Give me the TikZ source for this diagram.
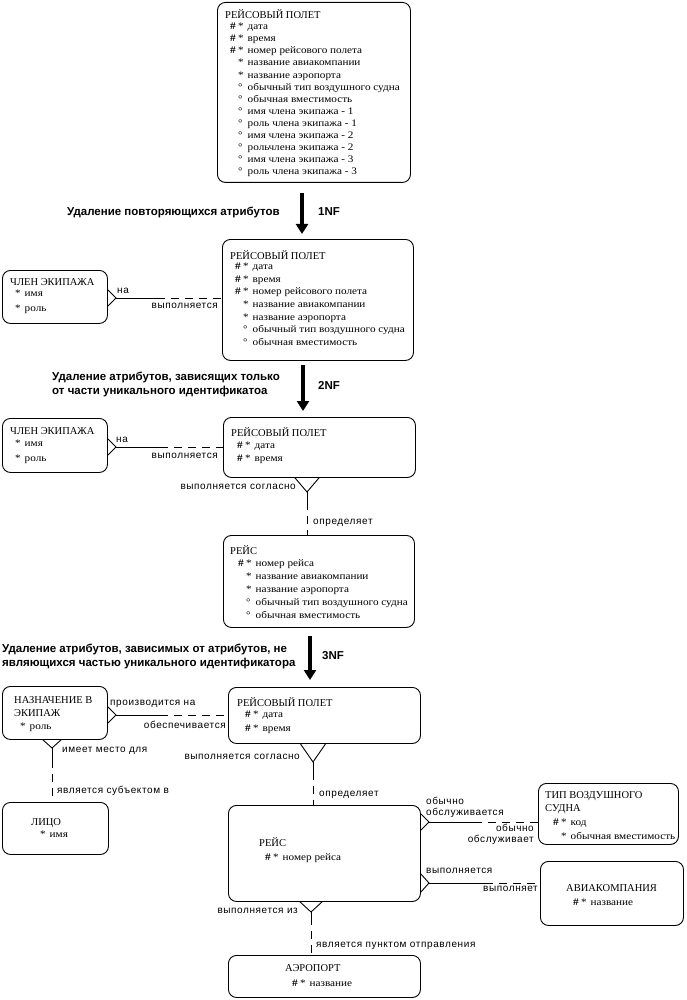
\documentclass[tikz,border=0pt]{standalone}
\usepackage{fontspec}
\setmainfont{Liberation Serif}
\newfontfamily\attrf[FakeStretch=1.12]{Liberation Serif}
\newfontfamily\lblf[LetterSpace=6]{Liberation Sans}
\newfontfamily\hdf{Liberation Sans}
\usetikzlibrary{arrows.meta,calc}
\newcommand\pk{\makebox[8pt][l]{\textbf{\#}}\makebox[9.5pt][l]{*}}
\newcommand\ps{\hspace*{8pt}\makebox[9.5pt][l]{*}}
\newcommand\po{\hspace*{8pt}\makebox[9.5pt][l]{°}}
\tikzset{
 ebox/.style={draw, line width=0.9pt, rounded corners=8pt, anchor=north west, inner sep=0pt},
 ttl/.style={anchor=west, inner sep=0pt, font=\fontsize{10.5}{12}\selectfont, text height=7pt, text depth=0pt},
 atr/.style={anchor=west, inner sep=0pt, font=\attrf\fontsize{10}{12}\selectfont, text height=6.5pt, text depth=2pt},
 lbl/.style={anchor=west, inner sep=0pt, font=\lblf\fontsize{10}{12}\selectfont, text height=6pt, text depth=1pt},
 lble/.style={lbl, anchor=east},
 hd/.style={anchor=west, inner sep=0pt, font=\hdf\bfseries\fontsize{11.5}{14}\selectfont, text height=6pt, text depth=1pt},
 nfarrow/.style={line width=4.5pt, -{Triangle[width=12pt,length=10pt]}},
 rel/.style={line width=0.9pt},
 reld/.style={line width=0.9pt, dash pattern=on 8pt off 6pt, dash phase=8pt},
}
\begin{document}
\begin{tikzpicture}[x=1pt,y=-1pt]
\fill[white] (0,0) rectangle (686,1000);
\useasboundingbox (0,0) rectangle (686,1000);

% ---------- Box 1 ----------
\node[ebox, minimum width=193pt, minimum height=180pt] (rp1) at (217,2) {};
\node[ttl] (rp1t) at (225,15) {РЕЙСОВЫЙ ПОЛЕТ};
\foreach \t [count=\i from 0] in {{\pk дата},{\pk время},{\pk номер рейсового полета},{\ps название авиакомпании},{\ps название аэропорта},{\po обычный тип воздушного судна},{\po обычная вместимость},{\po имя члена экипажа - 1},{\po роль члена экипажа - 1},{\po имя члена экипажа - 2},{\po рольчлена экипажа - 2},{\po имя члена экипажа - 3},{\po роль члена экипажа - 3}}
  \node[atr] (rp1a\i) at (230,{27.5+12.08*\i}) {\t};

% arrow 1NF
\coordinate (a1s) at (302,193);
\coordinate (a1e) at (302,234);
\draw[nfarrow] (a1s) -- (a1e);
\node[hd] (h1) at (67,213) {Удаление повторяющихся атрибутов};
\node[hd] (n1) at (318,213) {1NF};

% ---------- Box 2 ----------
\node[ebox, minimum width=191pt, minimum height=121pt] (rp2) at (222,239) {};
\node[ttl] (rp2t) at (230,256) {РЕЙСОВЫЙ ПОЛЕТ};
\foreach \t [count=\i from 0] in {{\pk дата},{\pk время},{\pk номер рейсового полета},{\ps название авиакомпании},{\ps название аэропорта},{\po обычный тип воздушного судна},{\po обычная вместимость}}
  \node[atr] (rp2a\i) at (235,{267.5+12.6*\i}) {\t};

\node[ebox, minimum width=105pt, minimum height=53pt] (cr1) at (2,270) {};
\node[ttl] (cr1t) at (10,282) {ЧЛЕН ЭКИПАЖА};
\node[atr] (cr1a) at (15,294.5) {\makebox[9.5pt][l]{*}имя};
\node[atr] (cr1b) at (15,309) {\makebox[9.5pt][l]{*}роль};

\coordinate (r1t) at (116,298);
\coordinate (r1m) at (165,298);
\draw[rel] ($(cr1.east|-r1t)+(0,-8)$) -- (r1t) -- ($(cr1.east|-r1t)+(0,8)$);
\draw[rel] (r1t) -- (r1m);
\draw[reld] (r1m) -- (rp2.west|-r1t);
\node[lbl] (l1a) at (117,291) {на};
\node[lble] (l1b) at (218,306) {выполняется};

% arrow 2NF
\coordinate (a2s) at (303,365);
\coordinate (a2e) at (303,411);
\draw[nfarrow] (a2s) -- (a2e);
\node[hd] (h2a) at (52,378) {Удаление атрибутов, зависящих только};
\node[hd] (h2b) at (52,392) {от части уникального идентификатоа};
\node[hd] (n2) at (318,387) {2NF};

% ---------- Box 3 ----------
\node[ebox, minimum width=192pt, minimum height=60pt] (rp3) at (223,417) {};
\node[ttl] (rp3t) at (231,433) {РЕЙСОВЫЙ ПОЛЕТ};
\node[atr] (rp3a) at (237,446) {\pk дата};
\node[atr] (rp3b) at (237,459) {\pk время};

\node[ebox, minimum width=105pt, minimum height=54pt] (cr2) at (2,418) {};
\node[ttl] (cr2t) at (10,431) {ЧЛЕН ЭКИПАЖА};
\node[atr] (cr2a) at (15,444.5) {\makebox[9.5pt][l]{*}имя};
\node[atr] (cr2b) at (15,459) {\makebox[9.5pt][l]{*}роль};

\coordinate (r2t) at (116,447);
\coordinate (r2m) at (168,447);
\draw[rel] ($(cr2.east|-r2t)+(0,-8)$) -- (r2t) -- ($(cr2.east|-r2t)+(0,8)$);
\draw[rel] (r2t) -- (r2m);
\draw[reld] (r2m) -- (rp3.west|-r2t);
\node[lbl] (l2a) at (116,440) {на};
\node[lble] (l2b) at (218,456) {выполняется};

% Box3 -> РЕЙС
\coordinate (r3t) at (307,492);
\coordinate (r3m) at (307,510);
\draw[rel] ($(rp3.south-|r3t)+(-12,0)$) -- (r3t) -- ($(rp3.south-|r3t)+(12,0)$);
\draw[rel] (r3t) -- (r3m);

% ---------- РЕЙС (2NF) ----------
\node[ebox, minimum width=191pt, minimum height=92pt] (rs1) at (223,535) {};
\draw[reld] (r3m) -- (rs1.north-|r3t);
\node[lble] (l3a) at (296,487) {выполняется согласно};
\node[lbl] (l3b) at (313,522) {определяет};
\node[ttl] (rs1t) at (230,551) {РЕЙС};
\foreach \t [count=\i from 0] in {{\pk номер рейса},{\ps название авиакомпании},{\ps название аэропорта},{\po обычный тип воздушного судна},{\po обычная вместимость}}
  \node[atr] (rs1a\i) at (238,{564.5+13*\i}) {\t};

% arrow 3NF
\coordinate (a3s) at (310,636);
\coordinate (a3e) at (310,680);
\draw[nfarrow] (a3s) -- (a3e);
\node[hd] (h3a) at (2,650) {Удаление атрибутов, зависимых от атрибутов, не};
\node[hd] (h3b) at (2,664) {являющихся частью уникального идентификатора};
\node[hd] (n3) at (322,657) {3NF};

% ---------- 3NF ----------
\node[ebox, minimum width=192pt, minimum height=56pt] (rp4) at (228,687) {};
\node[ttl] (rp4t) at (237,703) {РЕЙСОВЫЙ ПОЛЕТ};
\node[atr] (rp4a) at (245,715.5) {\pk дата};
\node[atr] (rp4b) at (245,729) {\pk время};

\node[ebox, minimum width=105pt, minimum height=53pt] (nz) at (2,686) {};
\node[ttl] (nzt1) at (14,700) {НАЗНАЧЕНИЕ В};
\node[ttl] (nzt2) at (14,713) {ЭКИПАЖ};
\node[atr] (nza) at (20,727) {\makebox[9.5pt][l]{*}роль};

\coordinate (r4t) at (116,715);
\coordinate (r4m) at (168,715);
\draw[rel] ($(nz.east|-r4t)+(0,-8)$) -- (r4t) -- ($(nz.east|-r4t)+(0,8)$);
\draw[rel] (r4t) -- (r4m);
\draw[reld] (r4m) -- (rp4.west|-r4t);
\node[lbl] (l4a) at (110,703) {производится на};
\node[lble] (l4b) at (226,726) {обеспечивается};

\node[ebox, minimum width=106pt, minimum height=52pt] (lc) at (2,802) {};
\node[ttl] (lct) at (31,822) {ЛИЦО};
\node[atr] (lca) at (40,835) {\makebox[9.5pt][l]{*}имя};

\coordinate (r5t) at (52,748);
\coordinate (r5m) at (52,768);
\draw[rel] ($(nz.south-|r5t)+(-9,0)$) -- (r5t) -- ($(nz.south-|r5t)+(9,0)$);
\draw[rel] (r5t) -- (r5m);
\draw[reld] (r5m) -- (lc.north-|r5t);
\node[lbl] (l5a) at (62,750) {имеет место для};
\node[lbl] (l5b) at (57,791) {является субъектом в};

\node[ebox, minimum width=192pt, minimum height=96pt] (rs2) at (228,805) {};
\node[ttl] (rs2t) at (259,843) {РЕЙС};
\node[atr] (rs2a) at (265,858) {\pk номер рейса};

\coordinate (r6t) at (313,762);
\coordinate (r6m) at (313,780);
\draw[rel] ($(rp4.south-|r6t)+(-12.5,0)$) -- (r6t) -- ($(rp4.south-|r6t)+(12.5,0)$);
\draw[rel] (r6t) -- (r6m);
\draw[reld] (r6m) -- (rs2.north-|r6t);
\node[lble] (l6a) at (300,757) {выполняется согласно};
\node[lbl] (l6b) at (319,794) {определяет};

\node[ebox, minimum width=140pt, minimum height=61pt] (tp) at (538,783) {};
\node[ttl] (tpt1) at (545,795) {ТИП ВОЗДУШНОГО};
\node[ttl] (tpt2) at (545,808) {СУДНА};
\node[atr] (tpa) at (553,823) {\pk код};
\node[atr] (tpb) at (553,837) {\ps обычная вместимость};

\coordinate (r7t) at (429,822);
\coordinate (r7m) at (482,822);
\draw[rel] ($(rs2.east|-r7t)+(0,-8)$) -- (r7t) -- ($(rs2.east|-r7t)+(0,8)$);
\draw[rel] (r7t) -- (r7m);
\draw[reld] (r7m) -- (tp.west|-r7t);
\node[lbl] (l7a) at (426,802) {обычно};
\node[lbl] (l7b) at (426,813) {обслуживается};
\node[lble] (l7c) at (534,829) {обычно};
\node[lble] (l7d) at (534,840) {обслуживает};

\node[ebox, minimum width=143pt, minimum height=64pt] (av) at (540,861) {};
\node[ttl] (avt) at (566,888) {АВИАКОМПАНИЯ};
\node[atr] (ava) at (573,903) {\pk название};

\coordinate (r8t) at (429,883);
\coordinate (r8m) at (493,883);
\draw[rel] ($(rs2.east|-r8t)+(0,-9)$) -- (r8t) -- ($(rs2.east|-r8t)+(0,9)$);
\draw[rel] (r8t) -- (r8m);
\draw[reld] (r8m) -- (av.west|-r8t);
\node[lbl] (l8a) at (426,871) {выполняется};
\node[lble] (l8b) at (538,889) {выполняет};

\node[ebox, minimum width=192pt, minimum height=42pt] (ap) at (228,955) {};
\node[ttl] (apt) at (285,968) {АЭРОПОРТ};
\node[atr] (apa) at (292,984) {\pk название};

\coordinate (r9t) at (311,912);
\coordinate (r9m) at (311,925);
\draw[rel] ($(rs2.south-|r9t)+(-11,0)$) -- (r9t) -- ($(rs2.south-|r9t)+(11,0)$);
\draw[rel] (r9t) -- (r9m);
\draw[reld] (r9m) -- (ap.north-|r9t);
\node[lble] (l9a) at (298,911) {выполняется из};
\node[lbl] (l9b) at (316,945) {является пунктом отправления};
\end{tikzpicture}
\end{document}
